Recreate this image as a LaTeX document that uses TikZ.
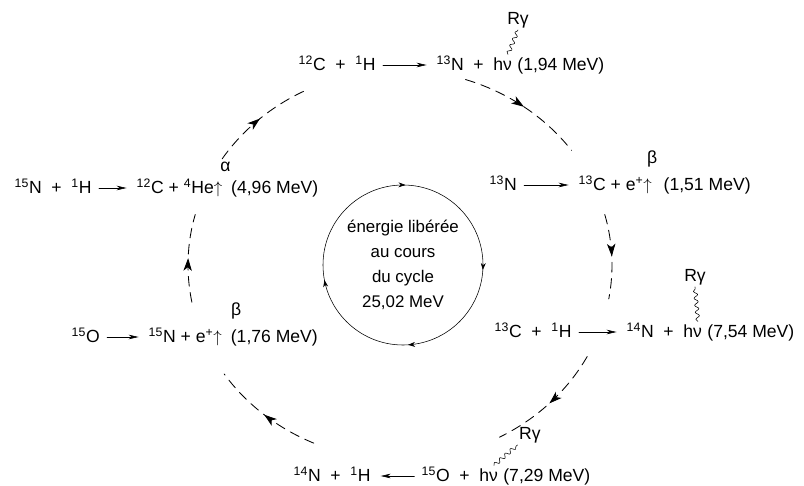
\documentclass[tikz,border=0pt]{standalone}
\usepackage{fontspec}
\setmainfont{Liberation Sans}
\usetikzlibrary{arrows.meta,positioning,decorations.markings,decorations.pathmorphing}
\newcommand{\iso}[2]{\textsuperscript{#1}#2}
\newcommand{\plus}{\hspace{.55em}+\hspace{.55em}}
\tikzset{
	reac/.style={inner sep=1pt,text height=1.9ex,text depth=.5ex,anchor=west},
	rayon/.style={inner sep=1pt},
	fleche/.style={-{Stealth[length=7pt,width=3.2pt,inset=2pt]},shorten <=4pt,shorten >=6pt},
	onde/.style={decorate,decoration={snake,amplitude=1.4pt,segment length=5pt}},
	cyc/.style={dash pattern=on 7pt off 4.5pt,semithick,postaction={decorate},
		decoration={markings,mark=at position .5 with {\arrow{Stealth[length=9pt,width=6pt,inset=2.5pt]}}}},
	cercle/.style={postaction={decorate},decoration={markings,
		mark=at position .01 with {\arrow{Stealth[length=5pt,width=3.5pt]}},
		mark=at position .24 with {\arrow{Stealth[length=5pt,width=3.5pt]}},
		mark=at position .47 with {\arrow{Stealth[length=5pt,width=3.5pt]}},
		mark=at position .755 with {\arrow{Stealth[length=5pt,width=3.5pt]}}}}
}
\begin{document}
\begin{tikzpicture}[line cap=round,line join=round,x=0.25mm,y=-0.25mm,font=\fontsize{12.5}{15}\selectfont]
	\useasboundingbox (0,0) rectangle (804,486);
	% reactions
	\path (297,65)node[reac](HautG){\iso{12}C\plus\iso{1}H} (435,65)node[reac](HautD){\iso{13}N\plus hν}
	(13,188)node[reac](GaucheG){\iso{15}N\plus\iso{1}H} (135,188)node[reac](GaucheD){\iso{12}C + \iso{4}He$\uparrow$}
	(488,185)node[reac](DroiteG){\iso{13}N} (577,185)node[reac](DroiteD){\iso{13}C + e\textsuperscript{+}$\uparrow$}
	(493,332)node[reac](BasDG){\iso{13}C\plus\iso{1}H} (625,332)node[reac](BasDD){\iso{14}N\plus hν}
	(70,337)node[reac](BasGG){\iso{15}O} (147,337)node[reac](BasGD){\iso{15}N + e\textsuperscript{+}$\uparrow$}
	(292,476)node[reac](BasG){\iso{14}N\plus\iso{1}H} (420,476)node[reac](BasD){\iso{15}O\plus hν};
	\node[reac,right=1.5pt of HautD](HautE){(1,94 MeV)};
	\node[reac,right=4pt of GaucheD](GaucheE){(4,96 MeV)};
	\node[reac,right=6pt of DroiteD](DroiteE){(1,51 MeV)};
	\node[reac,right=1.5pt of BasDD](BasDE){(7,54 MeV)};
	\node[reac,right=4pt of BasGD](BasGE){(1,76 MeV)};
	\node[reac,right=1.5pt of BasD](BasE){(7,29 MeV)};
	\draw[fleche] (HautG)--(HautD);
	\draw[fleche] (GaucheG)--(GaucheD);
	\draw[fleche] (DroiteG)--(DroiteD);
	\draw[fleche] (BasDG)--(BasDD);
	\draw[fleche] (BasGG)--(BasGD);
	\draw[fleche] (BasD)--(BasG);
	% particules et rayonnements
	\node[rayon,above=3pt of GaucheD.north east,xshift=1pt](alpha){α};
	\node[rayon,above=4pt of DroiteD.north east,xshift=-1pt](betaD){β};
	\node[rayon,above=4pt of BasGD.north east,xshift=9pt](betaG){β};
	\path ([xshift=-4pt]HautD.north east)coordinate(nuHaut) ++(10,-34)node[rayon](RgHaut){Rγ}
	([xshift=-4pt]BasDD.north east)coordinate(nuDroite) ++(-3,-44)node[rayon](RgDroite){Rγ}
	([xshift=-4pt]BasD.north east)coordinate(nuBas) ++(36,-30)node[rayon](RgBas){Rγ};
	\draw[onde] (nuHaut)--(RgHaut.south);
	\draw[onde] (nuDroite)--(RgDroite.south);
	\draw[onde] (nuBas)--(RgBas.south west);
	% cycle
	\path (400,265)coordinate(M) (403,265)coordinate(C);
	\draw[cyc] (M) ++(-147:212 and 195) arc[start angle=-147,end angle=-116,x radius=212,y radius=195];
	\draw[cyc] (M) ++(-72:212 and 195) arc[start angle=-72,end angle=-36,x radius=212,y radius=195];
	\draw[cyc] (M) ++(-15:212 and 195) arc[start angle=-15,end angle=10,x radius=212,y radius=195];
	\draw[cyc] (M) ++(28:212 and 195) arc[start angle=28,end angle=62,x radius=212,y radius=195];
	\draw[cyc] (M) ++(114:212 and 195) arc[start angle=114,end angle=146,x radius=212,y radius=195];
	\draw[cyc] (M) ++(169:212 and 195) arc[start angle=169,end angle=195,x radius=212,y radius=195];
	% bilan
	\draw[cercle] (C) ++(0:80) arc[start angle=0,end angle=360,radius=80];
	\node[align=center,font=\fontsize{12}{17.7}\selectfont] (bilan) at (C) {énergie libérée\\au cours\\du cycle\\25,02 MeV};
\end{tikzpicture}
\end{document}
